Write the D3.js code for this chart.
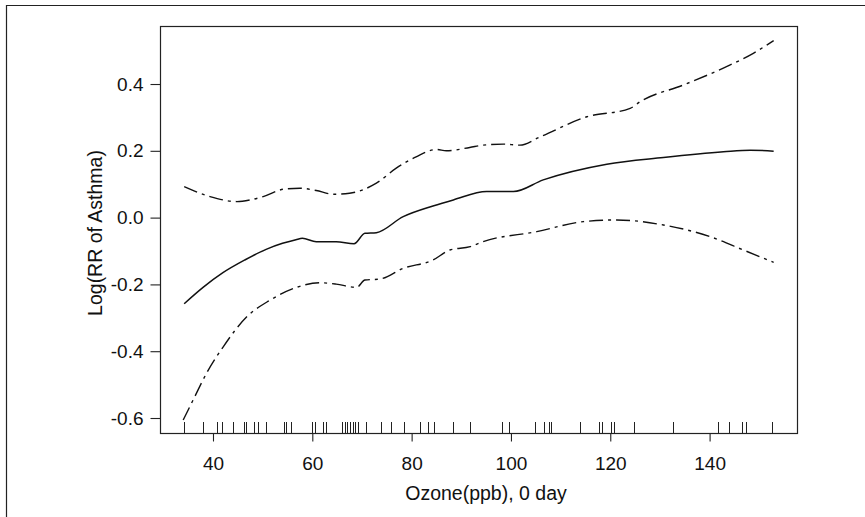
<!DOCTYPE html>
<html>
<head>
<meta charset="utf-8">
<script src="https://cdn.jsdelivr.net/npm/d3@7"></script>
<style>
  html, body { margin: 0; padding: 0; background: #fff; }
  svg { display: block; }
  text { font-family: "Liberation Sans", Arial, Helvetica, sans-serif; fill: #111; }
</style>
</head>
<body>
<svg id="chart" width="865" height="517"></svg>
<script>
// ---- data ----
const xTicks = [40, 60, 80, 100, 120, 140];
const yTicks = [-0.6, -0.4, -0.2, 0.0, 0.2, 0.4];
const xTitle = "Ozone(ppb), 0 day";
const yTitle = "Log(RR of Asthma)";

const centerX = [34.2, 38.0, 42.0, 46.4, 50.7, 54.0, 56.7, 58.0, 60.8, 64.8, 68.4, 70.6, 72.9, 78.3, 84.3, 88.4, 95.1, 100.5, 106.5, 119.3, 130.7, 142.8, 148.2, 152.9];
const centerY = [-0.258, -0.209, -0.165, -0.127, -0.095, -0.077, -0.066, -0.062, -0.072, -0.072, -0.078, -0.047, -0.045, 0.003, 0.035, 0.053, 0.078, 0.078, 0.113, 0.160, 0.180, 0.197, 0.202, 0.199];

const upperX = [34.2, 39.4, 44.8, 47.5, 50.1, 54.2, 57.5, 60.8, 64.2, 67.5, 72.9, 76.9, 80.9, 85.0, 87.0, 91.7, 94.4, 98.5, 101.8, 105.9, 115.3, 124.0, 126.0, 134.7, 143.4, 148.8, 152.9];
const upperY = [0.093, 0.063, 0.048, 0.053, 0.063, 0.085, 0.088, 0.081, 0.070, 0.073, 0.103, 0.148, 0.182, 0.204, 0.200, 0.210, 0.217, 0.220, 0.217, 0.242, 0.302, 0.327, 0.347, 0.397, 0.452, 0.492, 0.530];

const lowerX = [34.0, 36.0, 38.7, 42.1, 46.8, 51.5, 56.8, 61.5, 64.8, 68.9, 70.6, 73.6, 78.3, 84.3, 87.7, 91.8, 94.4, 105.2, 114.6, 121.3, 130.7, 140.1, 146.8, 152.9];
const lowerY = [-0.606, -0.546, -0.466, -0.386, -0.297, -0.247, -0.209, -0.195, -0.199, -0.209, -0.187, -0.184, -0.152, -0.127, -0.097, -0.087, -0.072, -0.042, -0.012, -0.007, -0.022, -0.057, -0.097, -0.134];

const rugX = [34.1, 37.9, 40.8, 41.8, 44.0, 46.3, 46.7, 48.3, 49.1, 50.7, 54.2, 54.7, 55.8, 60.0, 60.6, 62.2, 62.8, 65.9, 66.5, 67.0, 67.6, 68.1, 68.6, 69.2, 70.9, 73.9, 75.8, 78.4, 81.6, 83.2, 84.6, 88.3, 91.7, 98.2, 99.7, 104.9, 106.7, 107.7, 108.1, 113.9, 117.8, 118.4, 120.1, 120.7, 124.8, 132.6, 141.6, 144.0, 146.6, 147.4, 152.5];

// ---- layout ----
const plot = { left: 160, right: 797, top: 26, bottom: 433 };
const svg = d3.select("#chart");

const x = d3.scaleLinear().domain([29.33, 157.6]).range([plot.left, plot.right]);
const y = d3.scaleLinear().domain([-0.6449, 0.5737]).range([plot.bottom, plot.top]);

// outer frame (partial, as in the scan)
svg.append("path")
  .attr("d", `M6.5,517 L6.5,5.5 L865,5.5`)
  .attr("fill", "none").attr("stroke", "#222").attr("stroke-width", 1.2);

// plot box
svg.append("rect")
  .attr("x", plot.left + 0.5).attr("y", plot.top + 0.5)
  .attr("width", plot.right - plot.left).attr("height", plot.bottom - plot.top)
  .attr("fill", "none").attr("stroke", "#222").attr("stroke-width", 1.2);

// axes
const xAxis = d3.axisBottom(x).tickValues(xTicks).tickSize(8).tickPadding(15).tickFormat(d => String(d));
const gx = svg.append("g").attr("transform", `translate(0,${plot.bottom + 0.5})`).call(xAxis);
gx.select(".domain").remove();
gx.selectAll(".tick line").attr("stroke", "#222").attr("stroke-width", 1.1);
gx.selectAll(".tick text").attr("font-size", 19).attr("fill", "#111")
  .style("font-family", '"Liberation Sans", Arial, Helvetica, sans-serif');

const yAxis = d3.axisLeft(y).tickValues(yTicks).tickSize(10).tickPadding(7).tickFormat(d => d.toFixed(1));
const gy = svg.append("g").attr("transform", `translate(${plot.left + 0.5},0)`).call(yAxis);
gy.select(".domain").remove();
gy.selectAll(".tick line").attr("stroke", "#222").attr("stroke-width", 1.1);
gy.selectAll(".tick text").attr("font-size", 19).attr("fill", "#111")
  .style("font-family", '"Liberation Sans", Arial, Helvetica, sans-serif');

// axis titles
svg.append("text")
  .attr("x", 486).attr("y", 500)
  .attr("text-anchor", "middle").attr("font-size", 19.5)
  .text(xTitle);

svg.append("text")
  .attr("transform", "translate(102,233) rotate(-90)")
  .attr("text-anchor", "middle").attr("font-size", 19.5)
  .text(yTitle);

// rug
svg.append("g").selectAll("line").data(rugX).join("line")
  .attr("x1", d => Math.round(x(d)) + 0.5).attr("x2", d => Math.round(x(d)) + 0.5)
  .attr("y1", plot.bottom).attr("y2", plot.bottom - 11)
  .attr("stroke", "#222").attr("stroke-width", 1);

// curves
const line = d3.line().x(d => x(d[0])).y(d => y(d[1])).curve(d3.curveMonotoneX);
const zip = (a, b) => a.map((v, i) => [v, b[i]]);

svg.append("path").datum(zip(upperX, upperY))
  .attr("d", line).attr("fill", "none").attr("stroke", "#111")
  .attr("stroke-width", 1.4).attr("stroke-dasharray", "14,5,3,5");
svg.append("path").datum(zip(lowerX, lowerY))
  .attr("d", line).attr("fill", "none").attr("stroke", "#111")
  .attr("stroke-width", 1.4).attr("stroke-dasharray", "14,5,3,5");
svg.append("path").datum(zip(centerX, centerY))
  .attr("d", line).attr("fill", "none").attr("stroke", "#111")
  .attr("stroke-width", 1.5);
</script>
</body>
</html>
